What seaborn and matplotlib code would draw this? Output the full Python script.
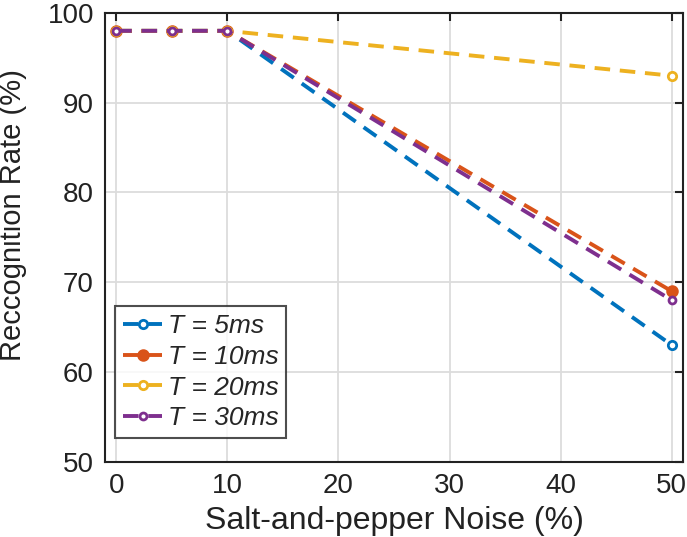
import matplotlib
matplotlib.use("Agg")
import matplotlib.pyplot as plt
import seaborn as sns
import pandas as pd

noise = [0, 5, 10, 50]
t5 = [98, 98, 98, 63]
t10 = [98, 98, 98, 69]
t20 = [98, 98, 98, 93]
t30 = [98, 98, 98, 68]
labels = ["T = 5ms", "T = 10ms", "T = 20ms", "T = 30ms"]
series = [t5, t10, t20, t30]
colors = ["#0072BD", "#D95319", "#EDB120", "#7E2F8E"]

rows = []
for lab, vals in zip(labels, series):
    for x, y in zip(noise, vals):
        rows.append({"noise": x, "rate": y, "T": lab})
df = pd.DataFrame(rows)

sns.set_theme(style="white")
plt.rcParams["font.family"] = ["Liberation Sans", "DejaVu Sans"]

fig = plt.figure(figsize=(6.87, 5.37), dpi=100)
ax = fig.add_axes([0.153, 0.140, 0.841, 0.836])

mfc = ["white", colors[1], "white", "white"]
msz = [6, 7, 6, 5]
for lab, vals, c, fc, ms in zip(labels, series, colors, mfc, msz):
    sub = df[df["T"] == lab]
    sns.lineplot(data=sub, x="noise", y="rate", ax=ax, color=c, linestyle=(0, (4, 2.5)),
                 lw=2.8, marker="o", markersize=ms, markerfacecolor=fc,
                 markeredgecolor=c, markeredgewidth=2, label=lab)

ax.set_xlim(-1, 51)
ax.set_ylim(50, 100)
ax.set_xticks([0, 10, 20, 30, 40, 50])
ax.set_yticks([50, 60, 70, 80, 90, 100])
ax.grid(True, color="#dcdcdc", lw=1.3)
ax.tick_params(axis="both", direction="in", labelsize=20, length=6, width=1.5,
               colors="#222222", top=True, right=True, pad=8)
for s in ax.spines.values():
    s.set_color("#222222")
    s.set_linewidth(1.5)
ax.set_xlabel("Salt-and-pepper Noise (%)", fontsize=23, color="#222222", labelpad=5)
ax.set_ylabel("Reccognition Rate (%)", fontsize=21, color="#222222", labelpad=8)
ax.yaxis.set_label_coords(-0.135, 0.55)

leg = ax.legend(loc="lower left", bbox_to_anchor=(0.017, 0.053), borderaxespad=0,
                prop={"size": 19, "style": "italic"}, frameon=True,
                fancybox=False, edgecolor="#222222", handlelength=1.5, handletextpad=0.2,
                borderpad=0.3, labelspacing=0.25)
leg.get_frame().set_linewidth(1.5)

fig.savefig("out.png", dpi=100)
